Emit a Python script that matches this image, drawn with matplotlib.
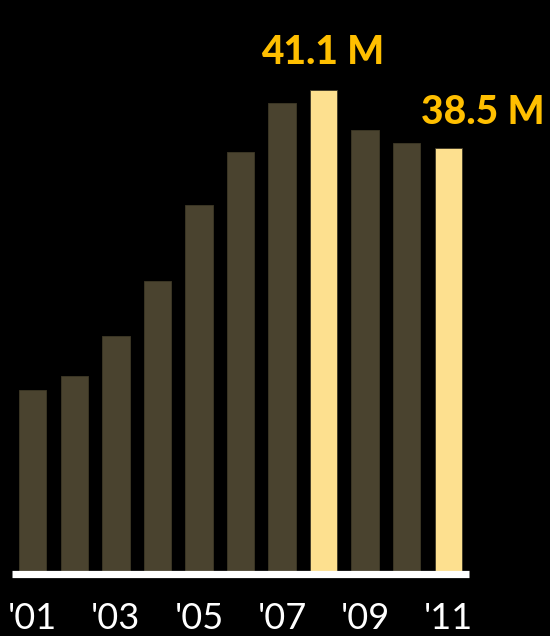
import matplotlib.pyplot as plt
import numpy as np

# data (millions)
years = ["'01", "'02", "'03", "'04", "'05", "'06", "'07", "'08", "'09", "'10", "'11"]
values = [27.6, 28.2, 30.0, 32.5, 35.9, 38.3, 40.5, 41.1, 39.3, 38.7, 38.5]
highlight = {"'08": "41.1 M", "'11": "38.5 M"}

dark = "#4a432f"
light = "#fde08f"
gold = "#ffbf00"

fig = plt.figure(figsize=(5.5, 6.36), dpi=100, facecolor="black")
ax = fig.add_axes([0.0218, 0.0967, 0.8309, 0.9033])
ax.set_facecolor("black")

x = np.arange(len(years))
colors = [light if y in highlight else dark for y in years]
ax.bar(x, values, width=0.66, color=colors, edgecolor="#3e3826", linewidth=0.6, zorder=2)

ax.set_xlim(-0.5, len(years) - 0.5)
ax.set_ylim(19.27, 45.16)

for s in ["top", "left", "right"]:
    ax.spines[s].set_visible(False)
ax.spines["bottom"].set_color("white")
ax.spines["bottom"].set_linewidth(5.2)
ax.spines["bottom"].set_capstyle("butt")
ax.spines["bottom"].set_zorder(3)
ax.set_yticks([])

ticks = x[::2]
ax.set_xticks(ticks)
ax.set_xticklabels([years[i] for i in ticks], fontsize=26, color="white", family="Lato")
ax.tick_params(axis="x", length=0, pad=20)

# value labels for highlighted bars
offsets = {"'08": (-1, 14), "'11": (25, 12)}
for i, y in enumerate(years):
    if y in highlight:
        ax.annotate(highlight[y], xy=(i, values[i]), xytext=offsets[y],
                    textcoords="offset points", ha="center", va="bottom",
                    fontsize=28, fontweight="black", color=gold, family="Lato",
                    annotation_clip=False)

fig.savefig("out.png", dpi=100, facecolor="black")
